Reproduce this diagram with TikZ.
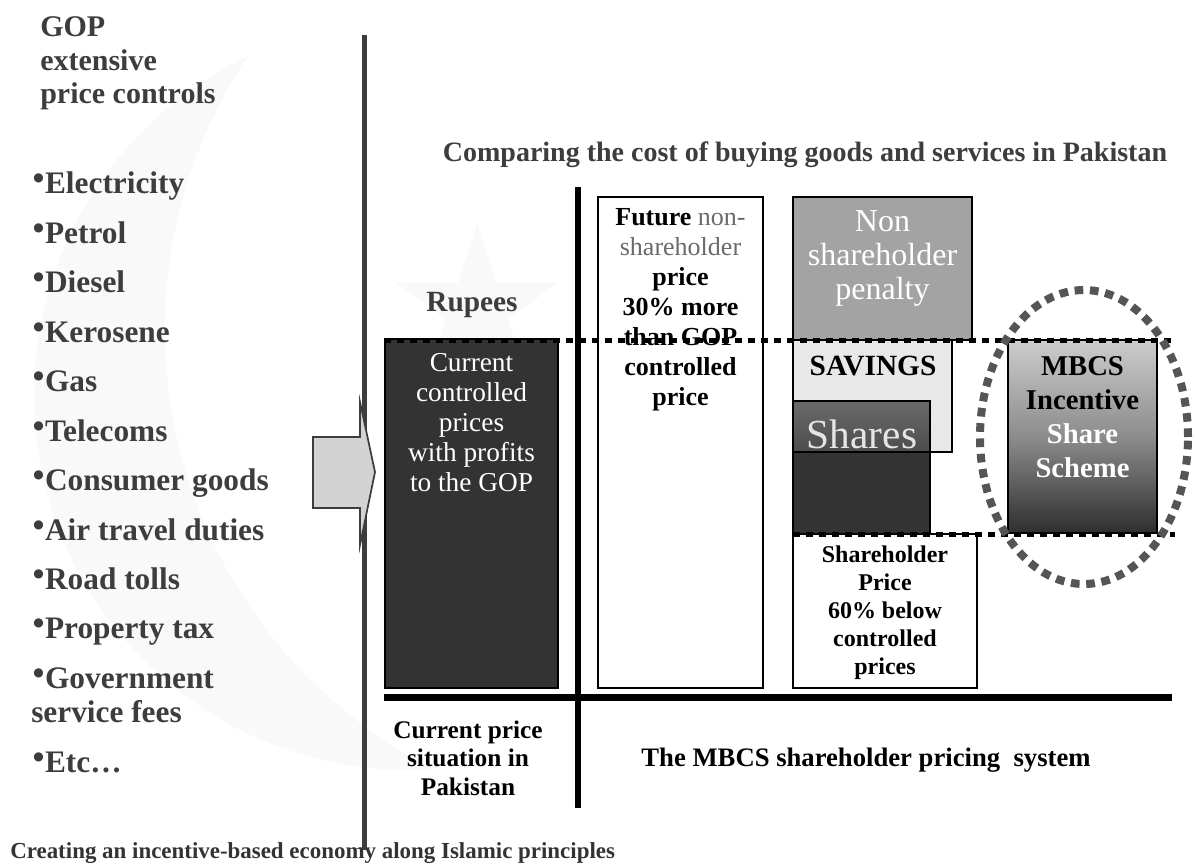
\documentclass[tikz,border=0pt]{standalone}
\usepackage{fontspec}
\setmainfont{Liberation Serif}
\newfontfamily\symfont{DejaVu Sans}
\usetikzlibrary{shapes.geometric}
\definecolor{lgray}{HTML}{3D3D3D}
\definecolor{darkbox}{HTML}{333333}
\definecolor{penaltyfill}{HTML}{A3A3A3}
\definecolor{savfill}{HTML}{E8E8E8}
\definecolor{arrowfill}{HTML}{D3D3D3}
\definecolor{ringgray}{HTML}{555555}
\definecolor{wmark}{HTML}{F9F9F9}
\definecolor{midgray}{HTML}{6A6A6A}
\newcommand{\fsz}[2]{\fontsize{#1}{#2}\selectfont}
\newcommand{\bul}{\raisebox{9pt}{\symfont\fsz{9}{9}●}\hspace{1pt}}
\begin{document}
\begin{tikzpicture}[x=0.75pt,y=-0.75pt,
  listitem/.style={anchor=base west, inner sep=0pt, font=\bfseries\fsz{23.5}{26}, text=lgray},
  bx/.style={draw=black, line width=1.1pt, inner sep=0pt},
  dotline/.style={line width=3.75pt, dash pattern=on 5.25pt off 4.5pt},
  boxtext/.style={align=center, inner sep=0pt},
]
\useasboundingbox (0,0) rectangle (1195,864);

% faint watermark (crescent and star)
\fill[wmark] (409,395) circle (375);
\fill[white] (658,330) circle (493);
\node[star, star points=5, star point ratio=2.618, minimum size=127.5pt, inner sep=0pt, fill=wmark] (wstar) at (477,309) {};

% left header and list
\node[listitem, font=\bfseries\fsz{22.5}{26}] (h1) at (40,36) {GOP};
\node[listitem, font=\bfseries\fsz{22.5}{26}] (h2) at (40,70) {extensive};
\node[listitem, font=\bfseries\fsz{22.5}{26}] (h3) at (40,103) {price controls};
\foreach \t/\y/\n in {Electricity/193/1, Petrol/243/2, Diesel/292/3, Kerosene/342/4, Gas/391/5, Telecoms/441/6, Consumer goods/490/7, Air travel duties/540/8, Road tolls/589/9, Property tax/638/10, Government/688/11, Etc…/772/13}
  \node[listitem] (li\n) at (33,\y) {\bul\t};
\node[listitem] (li12) at (31,722) {service fees};

% caption
\node[anchor=base west, inner sep=0pt, font=\bfseries\fsz{17.2}{20}, text=darkbox] (cap) at (10,858) {Creating an incentive-based economy along Islamic principles};

% left divider
\coordinate (lvt) at (364,35);
\coordinate (lvb) at (364,850);
\draw[line width=3.75pt, draw=lgray] (lvt) -- (lvb);

% block arrow
\draw[fill=arrowfill, draw=lgray, line width=1.3pt, line join=miter]
  (313,437) -- (360,437) -- (360,402) -- (375,472) -- (360,545) -- (360,508) -- (313,508) -- cycle;

% title
\node[anchor=base, inner sep=0pt, font=\bfseries\fsz{21}{24}, text=lgray] (title) at (805,161) {Comparing the cost of buying goods and services in Pakistan};

% boxes
\node[bx, fill=darkbox, minimum width=129.75pt, minimum height=261.75pt] (cur) at (471.5,513.5) {};
\node[bx, fill=white, minimum width=123.75pt, minimum height=368.25pt] (fut) at (680.5,442.5) {};
\node[bx, fill=penaltyfill, minimum width=134.25pt, minimum height=107.25pt] (pen) at (882.5,268.5) {};
\node[bx, fill=savfill, minimum width=119.25pt, minimum height=84pt] (sav) at (872.5,396) {};
\node[bx, top color=midgray, bottom color=black!70, minimum width=102.75pt, minimum height=38.25pt] (shr) at (861.5,426.5) {};
\node[bx, fill=darkbox, minimum width=102.75pt, minimum height=61.5pt] (drk) at (861.5,493) {};
\node[bx, fill=white, minimum width=138pt, minimum height=115.5pt] (shp) at (885,611) {};
\node[bx, top color=black!20, bottom color=black!82, middle color=black!45, minimum width=111.75pt, minimum height=144.75pt] (mbcs) at (1082.5,436.5) {};

% box texts
\node[font=\bfseries\fsz{22}{26}, text=lgray] (rup) at (472,305) {Rupees};
\node[boxtext, font=\fsz{20.5}{22.5}, text=white] (curtxt) at (471.5,423) {Current\\controlled\\prices\\with profits\\to the GOP};
\node[boxtext, font=\bfseries\fsz{19.5}{22.5}] (futtxt) at (680.5,310) {Future {\mdseries\color{midgray}non-}\\{\mdseries\color{midgray}shareholder}\\price\\30\% more\\than GOP\\controlled\\price};
\node[boxtext, font=\fsz{24}{25.5}, text=white] (pentxt) at (882.5,258) {Non\\shareholder\\penalty};
\node[boxtext, font=\bfseries\fsz{22}{24}] (savtxt) at (873,366) {SAVINGS};
\node[boxtext, font=\fsz{31}{31}, text=black!10] (shtxt) at (862,434) {Shares};
\node[boxtext, font=\bfseries\fsz{18}{21}] (shptxt) at (885,613) {Shareholder\\Price\\60\% below\\controlled\\prices};
\node[boxtext, font=\bfseries\fsz{21.5}{25.5}] (mbtxt) at (1082.5,417) {MBCS\\Incentive\\{\color{white}Share}\\{\color{white}Scheme}};

% dotted level lines
\coordinate (d1a) at (384,340);
\coordinate (d1b) at (1175,340);
\coordinate (d2a) at (793,534);
\coordinate (d2b) at (1175,534);
\draw[dotline] (d1a) -- (d1b);
\draw[dotline] (d2a) -- (d2b);

% dotted ring
\node[ellipse, draw=ringgray, line width=6pt, dash pattern=on 6.5pt off 5pt, minimum width=156pt, minimum height=220.5pt, inner sep=0pt] (ring) at (1084,437) {};

% axes
\coordinate (mvt) at (578,187);
\coordinate (mvb) at (578,808);
\coordinate (bhl) at (384,697);
\coordinate (bhr) at (1172,697);
\draw[line width=4.5pt] (mvt) -- (mvb);
\draw[line width=5.25pt] (bhl) -- (bhr);

% bottom labels
\node[boxtext, font=\bfseries\fsz{19}{21.5}] (curlbl) at (468,758) {Current price\\situation in\\Pakistan};
\node[font=\bfseries\fsz{20}{22}] (syslbl) at (866,760) {The MBCS shareholder pricing\ \ system};
\end{tikzpicture}
\end{document}
